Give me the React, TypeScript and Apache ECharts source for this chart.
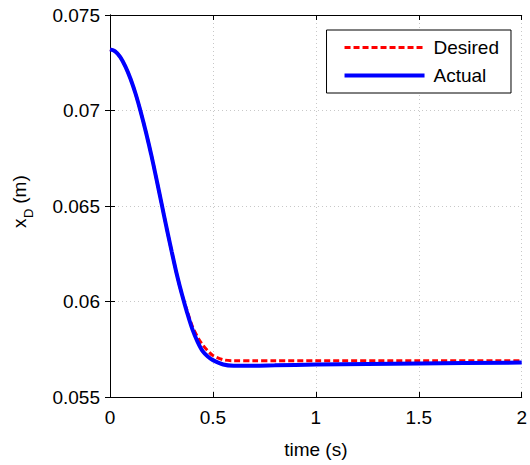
import React, { useEffect, useRef } from "react";
import * as echarts from "echarts";

const times = [0, 0.025, 0.05, 0.075, 0.1, 0.125, 0.15, 0.175, 0.2, 0.225, 0.25, 0.275, 0.3, 0.325, 0.35, 0.375, 0.4, 0.425, 0.45, 0.475, 0.5, 0.55, 0.6, 0.7, 0.8, 1.0, 1.5, 2.0];
const desired = [0.0732, 0.0731, 0.0728, 0.0723, 0.07165, 0.07085, 0.0699, 0.06885, 0.0677, 0.06645, 0.06515, 0.06385, 0.0626, 0.0614, 0.06035, 0.0595, 0.0587, 0.05815, 0.05773, 0.05742, 0.05717, 0.05695, 0.0569, 0.0569, 0.0569, 0.0569, 0.0569, 0.0569];
const actual = [0.0732, 0.0731, 0.0728, 0.0723, 0.07165, 0.07085, 0.0699, 0.06885, 0.0677, 0.06645, 0.06515, 0.06385, 0.0626, 0.0614, 0.06035, 0.0594, 0.05855, 0.0579, 0.0574, 0.05712, 0.05693, 0.0567, 0.05664, 0.05664, 0.05666, 0.0567, 0.05676, 0.0568];
const xTicks = ["0", "0.5", "1", "1.5", "2"];
const yTicks = ["0.055", "0.06", "0.065", "0.07", "0.075"];
const seriesNames = ["Desired", "Actual"];

const FONT = "Liberation Sans, Arial, sans-serif";
const RED_LINE = { color: "#ff0000", width: 3, type: [6, 3] };
const BLUE_LINE = { color: "#0000ff", width: 4, type: "solid" };

export default function App() {
  const ref = useRef<HTMLDivElement>(null);
  useEffect(() => {
    const chart = echarts.init(ref.current!, null, { renderer: "svg" });
    const fmt = (v: number) => parseFloat(v.toFixed(3)).toString();
    const axisCommon = {
      axisLine: { show: true, lineStyle: { color: "#000", width: 1 } },
      axisTick: { show: true, inside: true, length: 5, lineStyle: { color: "#000" } },
    };
    chart.setOption({
      animation: false,
      backgroundColor: "#fff",
      grid: { left: 110, right: 8, top: 15, bottom: 68, show: false },
      legend: {
        orient: "vertical",
        right: 19,
        top: 30,
        padding: [8, 12, 8, 16],
        itemGap: 9,
        itemWidth: 80,
        itemHeight: 16,
        backgroundColor: "#fff",
        borderColor: "#000",
        borderWidth: 1,
        borderRadius: 0,
        itemStyle: { opacity: 0 },
        textStyle: { fontFamily: FONT, fontSize: 19, color: "#000", padding: [0, 0, 0, 4] },
        data: [
          { name: seriesNames[0], lineStyle: RED_LINE },
          { name: seriesNames[1], lineStyle: BLUE_LINE },
        ],
      },
      xAxis: [
        {
          type: "value",
          min: 0,
          max: 2,
          interval: 0.5,
          name: "time (s)",
          nameLocation: "middle",
          nameGap: 43,
          nameTextStyle: { fontFamily: FONT, fontSize: 19, color: "#000" },
          ...axisCommon,
          axisLabel: {
            fontFamily: FONT,
            fontSize: 19,
            color: "#000",
            margin: 11,
            formatter: (v: number) => xTicks[Math.round(v / 0.5)] ?? fmt(v),
          },
          splitLine: { show: true, lineStyle: { color: "#c8c8c8", type: [1, 3], width: 1 } },
        },
        {
          type: "value",
          position: "top",
          min: 0,
          max: 2,
          interval: 0.5,
          ...axisCommon,
          axisLabel: { show: false },
          splitLine: { show: false },
        },
      ],
      yAxis: [
        {
          type: "value",
          min: 0.055,
          max: 0.075,
          interval: 0.005,
          ...axisCommon,
          axisLabel: {
            fontFamily: FONT,
            fontSize: 19,
            color: "#000",
            margin: 10,
            formatter: (v: number) => yTicks[Math.round((v - 0.055) / 0.005)] ?? fmt(v),
          },
          splitLine: { show: true, lineStyle: { color: "#c8c8c8", type: [1, 3], width: 1 } },
        },
        {
          type: "value",
          position: "right",
          min: 0.055,
          max: 0.075,
          interval: 0.005,
          ...axisCommon,
          axisLabel: { show: false },
          splitLine: { show: false },
        },
      ],
      graphic: [
        {
          type: "group",
          x: 19,
          y: 204,
          rotation: Math.PI / 2,
          children: [
            { type: "text", x: -24, y: 0, style: { text: "x", font: `19px ${FONT}`, fill: "#000", align: "left", verticalAlign: "middle" } },
            { type: "text", x: -14, y: 9, style: { text: "D", font: `13px ${FONT}`, fill: "#000", align: "left", verticalAlign: "middle" } },
            { type: "text", x: -5, y: 0, style: { text: " (m)", font: `19px ${FONT}`, fill: "#000", align: "left", verticalAlign: "middle" } },
          ],
        },
      ],
      series: [
        {
          name: seriesNames[0],
          type: "line",
          data: times.map((t, i) => [t, desired[i]]),
          showSymbol: false,
          symbol: "none",
          smooth: 0.3,
          lineStyle: RED_LINE,
          itemStyle: { color: "#ff0000" },
          z: 2,
        },
        {
          name: seriesNames[1],
          type: "line",
          data: times.map((t, i) => [t, actual[i]]),
          showSymbol: false,
          symbol: "none",
          smooth: 0.3,
          lineStyle: BLUE_LINE,
          itemStyle: { color: "#0000ff" },
          z: 3,
        },
      ],
    });
    return () => chart.dispose();
  }, []);
  return <div ref={ref} style={{ width: 530, height: 465, position: "absolute", left: 0, top: 0 }} />;
}
